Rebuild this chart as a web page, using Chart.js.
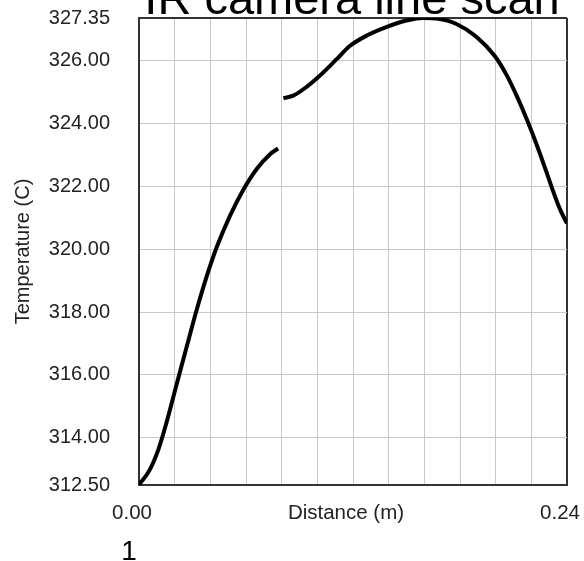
<!DOCTYPE html>
<html>
<head>
<meta charset="utf-8">
<title>IR camera line scan</title>
<script src="https://cdn.jsdelivr.net/npm/chart.js@4.4.1/dist/chart.umd.min.js"></script>
<style>
    html, body { margin: 0; padding: 0; background: #fff; }
    #wrap { width: 584px; height: 561px; }
</style>
</head>
<body>
<div id="wrap"><canvas id="scanChart" width="584" height="561"></canvas></div>
<script>
// line scan samples along the bar (null = break between the two pieces)
const distance = [
    0.000, 0.006, 0.011, 0.0155, 0.021, 0.027, 0.032, 0.038, 0.0435, 0.051,
    0.0585, 0.066, 0.0735, 0.078, 0.0795,
    0.081, 0.0865, 0.094, 0.1015, 0.111, 0.118, 0.128, 0.139, 0.150, 0.1595,
    0.167, 0.178, 0.189, 0.1995, 0.206, 0.212, 0.2175, 0.223, 0.2285, 0.2325,
    0.236, 0.2385, 0.240
];
const temperature = [
    312.50, 312.98, 313.65, 314.50, 315.68, 316.95, 318.00, 319.14, 320.05, 321.06,
    321.89, 322.55, 323.02, 323.20, null,
    324.80, 324.88, 325.16, 325.52, 326.05, 326.45, 326.80, 327.07, 327.27, 327.35,
    327.33, 327.16, 326.76, 326.14, 325.55, 324.85, 324.12, 323.32, 322.45, 321.80,
    321.28, 320.98, 320.82
];
const yTicks = [312.50, 314.00, 316.00, 318.00, 320.00, 322.00, 324.00, 326.00, 327.35];
const xMin = 0, xMax = 0.24, xStep = 0.02;

const FONT = '"Liberation Sans", Arial, sans-serif';

// title on top and panel number underneath
const captionPlugin = {
    id: 'captions',
    afterDraw(chart) {
        const ctx = chart.ctx;
        const area = chart.chartArea;
        ctx.save();
        ctx.fillStyle = '#000';
        ctx.textAlign = 'center';
        ctx.textBaseline = 'alphabetic';
        ctx.font = '47px ' + FONT;
        ctx.fillText('IR camera line scan', (area.left + area.right) / 2 - 1, 14);
        ctx.font = '28px ' + FONT;
        ctx.fillText('1', 129, 560);
        ctx.restore();
    }
};

const points = distance.map((d, i) => ({ x: d, y: temperature[i] }));

new Chart(document.getElementById('scanChart'), {
    type: 'line',
    data: {
        datasets: [{
            data: points,
            borderColor: '#000',
            borderWidth: 4,
            pointRadius: 0,
            fill: false,
            spanGaps: false,
            cubicInterpolationMode: 'monotone'
        }]
    },
    options: {
        responsive: false,
        animation: false,
        layout: { padding: { top: 18, right: 17, left: 0, bottom: 0 } },
        plugins: {
            legend: { display: false },
            tooltip: { enabled: false }
        },
        scales: {
            x: {
                type: 'linear',
                min: xMin,
                max: xMax,
                afterFit(scale) {
                    scale.height = 76;
                    // labels may hang past the plot edge, keep the plot size fixed
                    scale.paddingLeft = 0;
                    scale.paddingRight = 0;
                },
                border: { color: '#333', width: 2 },
                grid: {
                    drawTicks: false,
                    color: ctx => Math.abs(ctx.tick.value - xMax) < 1e-6 ? '#333' : '#c8c8c8',
                    lineWidth: ctx => Math.abs(ctx.tick.value - xMax) < 1e-6 ? 2 : 1
                },
                ticks: {
                    stepSize: xStep,
                    padding: 16,
                    labelOffset: -7,
                    maxRotation: 0,
                    autoSkip: false,
                    color: '#222',
                    font: { family: FONT, size: 20.5 },
                    callback(value) {
                        if (Math.abs(value - xMin) < 1e-6) return '0.00';
                        if (Math.abs(value - xMax) < 1e-6) return '0.24';
                        if (Math.abs(value - 0.12) < 1e-6) return 'Distance (m)';
                        return '';
                    }
                }
            },
            y: {
                min: yTicks[0],
                max: yTicks[yTicks.length - 1],
                afterFit(scale) {
                    scale.width = 139;
                    scale.paddingTop = 0;
                    scale.paddingBottom = 0;
                },
                afterBuildTicks(scale) {
                    scale.ticks = yTicks.map(v => ({ value: v }));
                },
                border: { color: '#333', width: 2 },
                grid: {
                    drawTicks: false,
                    color: ctx => ctx.index === yTicks.length - 1 ? '#333' : '#c8c8c8',
                    lineWidth: ctx => ctx.index === yTicks.length - 1 ? 2 : 1
                },
                ticks: {
                    padding: 29,
                    color: '#222',
                    font: { family: FONT, size: 20 },
                    callback: value => Number(value).toFixed(2)
                },
                title: {
                    display: true,
                    text: 'Temperature (C)',
                    color: '#222',
                    font: { family: FONT, size: 20 },
                    padding: { top: 11, bottom: 0 }
                }
            }
        }
    },
    plugins: [captionPlugin]
});
</script>
</body>
</html>
